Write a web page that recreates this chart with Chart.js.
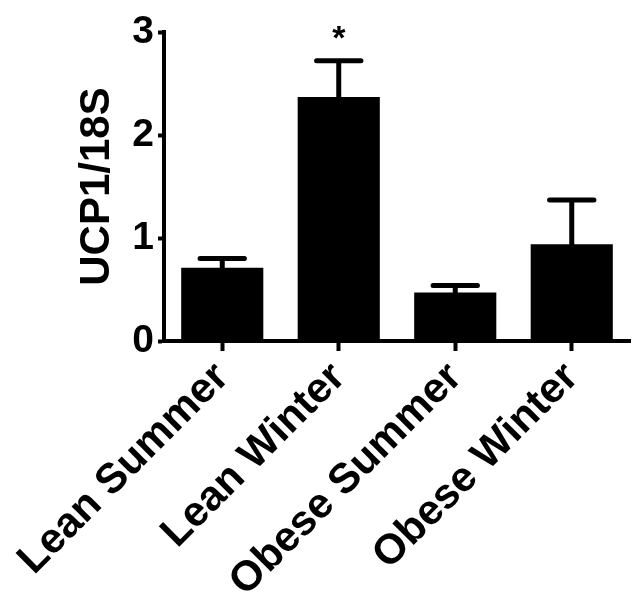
<!DOCTYPE html>
<html>
<head>
<meta charset="utf-8">
<script src="https://cdn.jsdelivr.net/npm/chart.js@4"></script>
<style>
  body { margin: 0; background: #fff; }
  #wrap { width: 632px; height: 596px; }
</style>
</head>
<body>
<div id="wrap"><canvas id="bar-chart"></canvas></div>
<script>
var groups = ['Lean Summer', 'Lean Winter', 'Obese Summer', 'Obese Winter'];
var means = [0.71, 2.37, 0.47, 0.94];
var sem = [0.09, 0.35, 0.07, 0.43];
var marks = ['', '*', '', ''];
var yTicks = [0, 1, 2, 3];

var FONT = "'Liberation Sans', Arial, sans-serif";

// error bars + significance star, drawn through the chart's own scales
var errorBars = {
    id: 'errorBars',
    afterDatasetsDraw: function(chart) {
        var ctx = chart.ctx;
        var meta = chart.getDatasetMeta(0);
        var y = chart.scales.y;
        ctx.save();
        ctx.strokeStyle = '#000';
        ctx.fillStyle = '#000';
        ctx.lineWidth = 5;
        ctx.lineCap = 'round';
        meta.data.forEach(function(bar, i) {
            var top = y.getPixelForValue(means[i] + sem[i]);
            var half = bar.width * 0.27;
            ctx.beginPath();
            ctx.moveTo(bar.x, bar.y);
            ctx.lineTo(bar.x, top);
            ctx.moveTo(bar.x - half, top);
            ctx.lineTo(bar.x + half, top);
            ctx.stroke();
            if (marks[i]) {
                ctx.font = 'bold 34px ' + FONT;
                ctx.textAlign = 'center';
                ctx.textBaseline = 'alphabetic';
                ctx.fillText(marks[i], bar.x, top - 12);
            }
        });
        ctx.restore();
    }
};

var ctx = document.getElementById('bar-chart').getContext('2d');
var myChart = new Chart(ctx, {
    type: 'bar',
    data: {
        labels: groups,
        datasets: [{
            data: means,
            backgroundColor: '#000',
            borderWidth: 0,
            barPercentage: 0.705,
            categoryPercentage: 1
        }]
    },
    options: {
        responsive: true,
        maintainAspectRatio: false,
        animation: false,
        layout: { padding: { top: 32, right: 2, left: 0, bottom: 0 } },
        plugins: {
            legend: { display: false },
            tooltip: { enabled: false }
        },
        scales: {
            x: {
                offset: true,
                border: { display: true, width: 4, color: '#000' },
                grid: { display: true, drawOnChartArea: false, drawTicks: true, tickLength: 10, tickWidth: 4, tickColor: '#000', offset: false },
                ticks: {
                    color: '#000',
                    font: { family: FONT, size: 42, weight: 'bold' },
                    minRotation: 45,
                    maxRotation: 45,
                    padding: 2
                },
                afterFit: function(s) { s.height = 255; }
            },
            y: {
                min: 0,
                max: 3,
                border: { display: true, width: 4, color: '#000' },
                grid: { display: true, drawOnChartArea: false, drawTicks: true, tickLength: 6, tickWidth: 4, tickColor: '#000' },
                afterBuildTicks: function(s) { s.ticks = yTicks.map(function(v) { return { value: v }; }); },
                ticks: {
                    color: '#000',
                    font: { family: FONT, size: 39, weight: 'bold' },
                    padding: 4
                },
                title: {
                    display: true,
                    text: 'UCP1/18S',
                    color: '#000',
                    font: { family: FONT, size: 42, weight: 'bold' },
                    padding: { top: 72, bottom: 0 }
                },
                afterFit: function(s) { s.width = 164; }
            }
        }
    },
    plugins: [errorBars]
});
</script>
</body>
</html>
